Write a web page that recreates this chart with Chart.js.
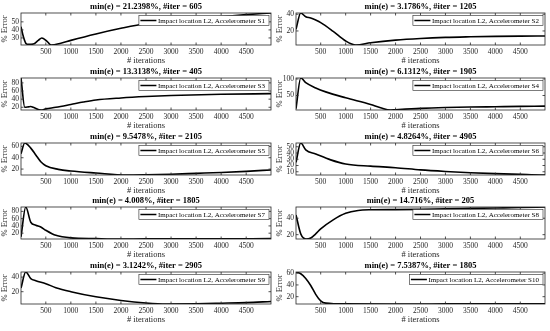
<!DOCTYPE html>
<html>
<head>
<meta charset="utf-8">
<title>Error vs iterations</title>
<script src="https://cdn.jsdelivr.net/npm/chart.js@4.4.1/dist/chart.umd.min.js"></script>
<style>
	html, body { margin: 0; padding: 0; background: #fff; }
	#wrap { position: relative; width: 550px; height: 331px; overflow: hidden; }
	.panel { position: absolute; width: 275px; height: 66px; }
</style>
</head>
<body>
<div id="wrap"></div>
<script>
// x axis (iterations)
var xMin = 5, xMax = 4995;
var xTicks = [500, 1000, 1500, 2000, 2500, 3000, 3500, 4000, 4500];

// one curve per accelerometer
var s1Iter = [5, 50, 100, 150, 250, 350, 420, 520, 605, 800, 1000, 1500, 2000, 2500, 3000, 3500, 4000, 4500, 4995];
var s1Err  = [44, 32, 23.5, 22, 22.5, 27, 30, 26, 21.2398, 23.5, 27, 35, 42, 48, 51.5, 54, 56.5, 59, 61];
var s1Ticks = [30, 40, 50];

var s2Iter = [5, 100, 200, 300, 400, 500, 750, 1000, 1205, 1500, 2000, 2500, 3000, 3500, 4000, 4500, 4995];
var s2Err  = [22, 41.5, 37, 35.5, 33, 30, 19.5, 8, 3.1786, 5.8, 9, 11, 12.3, 13, 13.5, 13.8, 14];
var s2Ticks = [20, 40];

var s3Iter = [5, 80, 150, 200, 250, 405, 500, 700, 1000, 1250, 1500, 2000, 2500, 3000, 4000, 4995];
var s3Err  = [92, 20, 21, 22, 20, 13.3138, 16, 20, 27, 33, 38, 43, 46.5, 49, 52, 53.5];
var s3Ticks = [20, 40, 60, 80];

var s4Iter = [5, 100, 200, 400, 600, 1000, 1500, 1700, 1905, 2000, 2500, 3000, 3500, 4000, 4500, 4995];
var s4Err  = [10, 103, 89, 73, 61, 43, 23, 13, 6.1312, 7, 11, 13.5, 15, 16, 17, 18];
var s4Ticks = [50, 100];

var s5Iter = [5, 80, 200, 300, 400, 500, 750, 1000, 1500, 2105, 2500, 3000, 3500, 4000, 4500, 4995];
var s5Err  = [47, 66, 57, 45, 33, 26, 19.5, 16.5, 13, 9.5478, 10, 11, 12.5, 14, 16, 18.5];
var s5Ticks = [20, 40, 60];

var s6Iter = [5, 100, 200, 400, 700, 1000, 1500, 2000, 2500, 3000, 3500, 4000, 4500, 4905, 4995];
var s6Err  = [25, 56, 45, 38.5, 29, 22.5, 19, 16.5, 13, 10.5, 8.5, 7, 5.8, 4.8264, 4.9];
var s6Ticks = [10, 20, 30, 40, 50];

var s7Iter = [5, 100, 200, 300, 400, 500, 700, 1000, 1500, 1805, 2500, 3500, 4995];
var s7Err  = [10, 92, 50, 42, 37, 28, 14, 7, 5, 4.008, 4.3, 4.6, 5];
var s7Ticks = [20, 40, 60, 80];

var s8Iter = [5, 100, 205, 300, 400, 500, 750, 1000, 1250, 1500, 2000, 2500, 3000, 3500, 4000, 4500, 4995];
var s8Err  = [44, 21, 14.716, 16, 21, 27, 38, 46, 49.5, 50.3, 50.5, 50.8, 51.5, 52, 52.5, 53, 53.7];
var s8Ticks = [20, 40];

var s9Iter = [5, 100, 200, 300, 500, 700, 1000, 1500, 2000, 2500, 2905, 3500, 4000, 4500, 4995];
var s9Err  = [25, 47, 38, 35, 31, 25.5, 20, 13, 8, 4.5, 3.1242, 3.5, 4.2, 5, 6.5];
var s9Ticks = [20, 40];

var s10Iter = [5, 100, 200, 300, 400, 500, 600, 800, 1000, 1805, 3000, 4000, 4995];
var s10Err  = [62, 59, 51, 39, 24, 13, 9, 8, 7.8, 7.5387, 7.7, 7.9, 8];
var s10Ticks = [20, 40, 60];

var sensors = ['S1', 'S2', 'S3', 'S4', 'S5', 'S6', 'S7', 'S8', 'S9', 'S10'];
var iters  = [s1Iter, s2Iter, s3Iter, s4Iter, s5Iter, s6Iter, s7Iter, s8Iter, s9Iter, s10Iter];
var errs   = [s1Err, s2Err, s3Err, s4Err, s5Err, s6Err, s7Err, s8Err, s9Err, s10Err];
var yTicks = [s1Ticks, s2Ticks, s3Ticks, s4Ticks, s5Ticks, s6Ticks, s7Ticks, s8Ticks, s9Ticks, s10Ticks];

var serif = "'Liberation Serif', 'Times New Roman', serif";
var axisColor = '#262626';

// matlab style box, inward ticks and the legend inside the axes
var axesBox = {
	id: 'axesBox',
	afterDatasetsDraw: function(chart) {
		var ctx = chart.ctx, a = chart.chartArea;
		var xs = chart.scales.x, ys = chart.scales.y;
		ctx.save();
		ctx.strokeStyle = axisColor;
		ctx.lineWidth = 0.8;
		ctx.beginPath();
		xs.ticks.forEach(function(t) {
			var px = xs.getPixelForValue(t.value);
			ctx.moveTo(px, a.bottom); ctx.lineTo(px, a.bottom - 2.5);
			ctx.moveTo(px, a.top); ctx.lineTo(px, a.top + 2.5);
		});
		ys.ticks.forEach(function(t) {
			var py = ys.getPixelForValue(t.value);
			ctx.moveTo(a.left, py); ctx.lineTo(a.left + 2.5, py);
			ctx.moveTo(a.right, py); ctx.lineTo(a.right - 2.5, py);
		});
		ctx.stroke();
		ctx.strokeRect(a.left, a.top, a.right - a.left, a.bottom - a.top);

		var label = chart.data.datasets[0].label;
		ctx.font = '7px ' + serif;
		var tw = ctx.measureText(label).width;
		var h = 10, w = tw + 23;
		var bx = a.right - 2 - w, by = a.top + 2.5;
		ctx.fillStyle = '#fff';
		ctx.fillRect(bx, by, w, h);
		ctx.lineWidth = 0.6;
		ctx.strokeRect(bx, by, w, h);
		ctx.strokeStyle = '#000';
		ctx.lineWidth = 1.5;
		ctx.beginPath();
		ctx.moveTo(bx + 1.5, by + h / 2);
		ctx.lineTo(bx + 17.5, by + h / 2);
		ctx.stroke();
		ctx.fillStyle = '#000';
		ctx.textBaseline = 'middle';
		ctx.fillText(label, bx + 19, by + h / 2 + 0.5);
		ctx.restore();
	}
};

var plainNumber = function(v) { return String(v); };

var makePanel = function(i) {
	var col = i % 2, row = Math.floor(i / 2);
	var div = document.createElement('div');
	div.className = 'panel';
	div.style.left = (col * 275) + 'px';
	div.style.top = Math.round(row * 64.75) + 'px';
	var canvas = document.createElement('canvas');
	canvas.width = 275;
	canvas.height = 66;
	div.appendChild(canvas);
	document.getElementById('wrap').appendChild(div);

	var it = iters[i], er = errs[i], tk = yTicks[i];
	var lo = Math.min.apply(null, er), hi = Math.max.apply(null, er);
	var atMin = it[er.indexOf(lo)];
	var points = it.map(function(x, k) { return { x: x, y: er[k] }; });

	new Chart(canvas.getContext('2d'), {
		type: 'line',
		data: {
			datasets: [{
				label: 'Impact location L2, Accelerometer ' + sensors[i],
				data: points,
				borderColor: '#000',
				borderWidth: 1.6,
				pointRadius: 0,
				fill: false,
				cubicInterpolationMode: 'monotone'
			}]
		},
		options: {
			responsive: false,
			animation: false,
			devicePixelRatio: 1,
			layout: { padding: { left: 0, right: col ? 5 : 4, top: 0, bottom: 0 } },
			plugins: {
				legend: { display: false },
				tooltip: { enabled: false },
				title: {
					display: true,
					fullSize: false,
					text: 'min(e) = ' + lo + '%, #iter = ' + atMin,
					color: '#000',
					font: { family: serif, size: 8.5, weight: 'bold' },
					padding: { top: 1.8, bottom: 1 }
				}
			},
			scales: {
				x: {
					type: 'linear',
					min: xMin,
					max: xMax,
					afterBuildTicks: function(s) { s.ticks = xTicks.map(function(v) { return { value: v }; }); },
					afterFit: function(s) { s.height = 21; },
					grid: { display: false, drawTicks: false },
					border: { display: false },
					ticks: { color: axisColor, font: { family: serif, size: 7.5 }, padding: 3, maxRotation: 0, autoSkip: false, callback: plainNumber },
					title: { display: true, text: '# iterations', color: axisColor, font: { family: serif, size: 8.5 }, padding: 0 }
				},
				y: {
					type: 'linear',
					min: lo,
					max: hi,
					afterBuildTicks: function(s) { s.ticks = tk.map(function(v) { return { value: v }; }); },
					afterFit: function(s) { s.width = 21; },
					grid: { display: false, drawTicks: false },
					border: { display: false },
					ticks: { color: axisColor, font: { family: serif, size: 7.5 }, padding: 2, autoSkip: false, callback: plainNumber },
					title: { display: true, text: '% Error', color: axisColor, font: { family: serif, size: 8.5 }, padding: 0 }
				}
			}
		},
		plugins: [axesBox]
	});
};

for (var i = 0; i < sensors.length; i++) {
	makePanel(i);
}
</script>
</body>
</html>
